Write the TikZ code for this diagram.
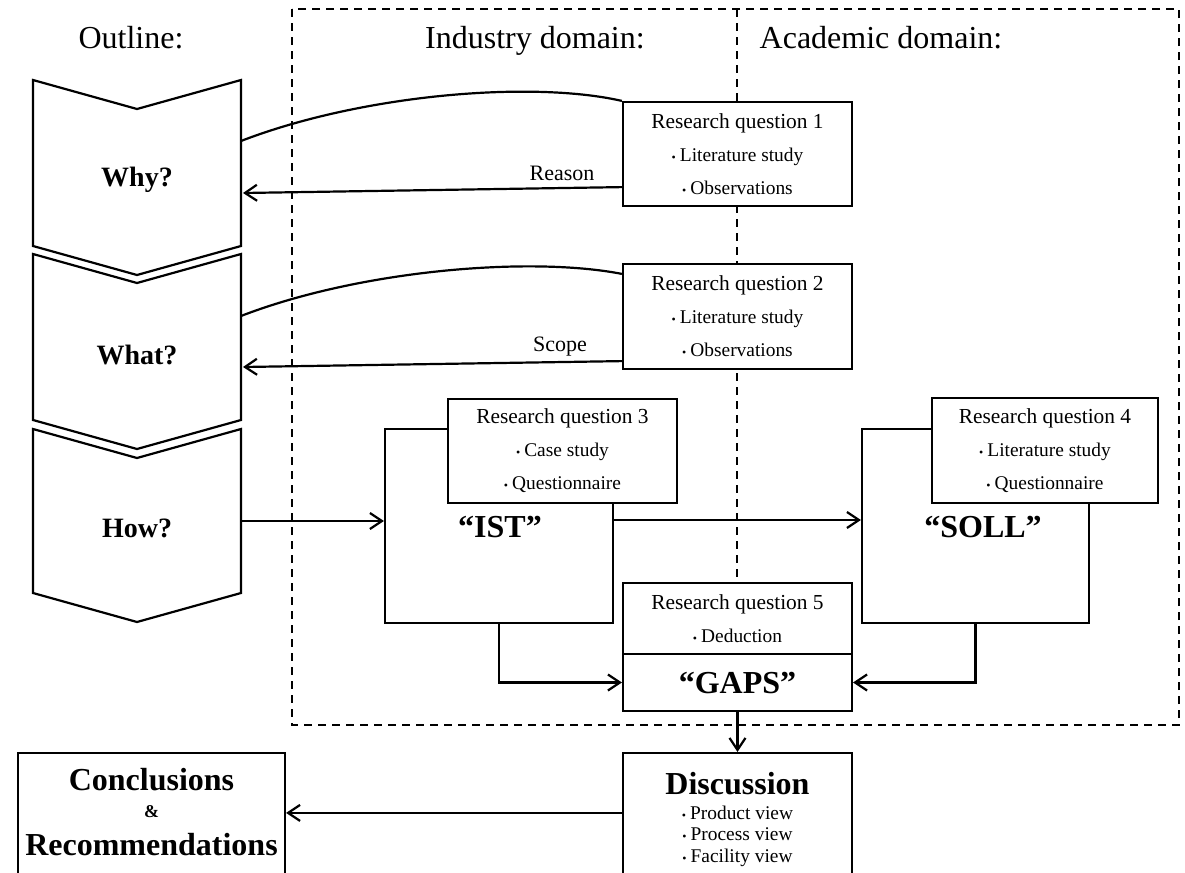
\documentclass[tikz,border=0pt]{standalone}
\usepackage{fontspec}
\setmainfont{Liberation Serif}
\usepackage{tikz}
\usetikzlibrary{positioning, arrows.meta, calc}
\newcommand{\bul}{{\fontsize{6}{6}\selectfont\textbullet}\hspace{2pt}}

\begin{document}
\begin{tikzpicture}[x=0.5pt, y=-0.5pt, >={Straight Barb[length=6pt,width=8pt]},
	every node/.style={inner sep=0pt},
	box/.style={draw, line width=1.1pt, fill=white, rectangle},
	rqbox/.style={box, align=center, minimum width=114.5pt, font=\fontsize{9.7}{16.5}\selectfont},
	rqtitle/.style={font=\fontsize{10.7}{16.5}\selectfont},
	bigword/.style={font=\fontsize{16}{16}\selectfont\bfseries},
	head/.style={font=\fontsize{16}{16}\selectfont, anchor=base},
	link/.style={line width=1.1pt},
	domainframe/.style={line width=1pt, dash pattern=on 4pt off 3pt}]
		
		\useasboundingbox (0,0) rectangle (1185,873);
		\clip (0,0) rectangle (1185,873);
		
		% Headings
		\node[head] (outline) at (131,48) {Outline:};
		\node[head] (industry) at (535,48) {Industry domain:};
		\node[head] (academic) at (881,48) {Academic domain:};
		
		% Domain frame
		\draw[domainframe] (292,9) rectangle (1179,725);
		\draw[domainframe] (737,9) -- (737,725);
		
		% Outline chevrons
		\foreach \t/\b in {80/246, 254/420, 429/593}
		\draw[line width=1.1pt] (33,\t) -- (137,\t+29) -- (241,\t) -- (241,\b) -- (137,\b+29) -- (33,\b) -- cycle;
		\node[font=\fontsize{14}{14}\selectfont\bfseries] (why) at (137,180) {Why?};
		\node[font=\fontsize{14}{14}\selectfont\bfseries] (what) at (137,355) {What?};
		\node[font=\fontsize{14}{14}\selectfont\bfseries] (how) at (137,528) {How?};
		\coordinate (whyout) at (241,141);
		\coordinate (whyin) at (243,193);
		\coordinate (whatout) at (241,316);
		\coordinate (whatin) at (243,367);
		\coordinate (howout) at (241,521);
		
		% Research questions 1 and 2
		\node[rqbox, minimum height=52pt] (rq1) at (737.5,154)
		{{\fontsize{10.7}{16.5}\selectfont Research question 1}\\ \bul Literature study\\ \bul Observations};
		\node[rqbox, minimum height=52.5pt] (rq2) at (737.5,316.5)
		{{\fontsize{10.7}{16.5}\selectfont Research question 2}\\ \bul Literature study\\ \bul Observations};
		
		\draw[link] (whyout) .. controls (360,95) and (530,80) .. (rq1.north west);
		\draw[link,->] ($(rq1.south west)+(0,-20)$) -- (whyin);
		\node[font=\fontsize{11}{11}\selectfont] (reason) at (562,173) {Reason};
		
		\draw[link] (whatout) .. controls (360,270) and (530,256) .. ($(rq2.north west)+(0,11)$);
		\draw[link,->] ($(rq2.south west)+(0,-9)$) -- (whatin);
		\node[font=\fontsize{11}{11}\selectfont] (scope) at (560,347) {Scope};
		
		% IST and SOLL
		\node[box, minimum width=114pt, minimum height=97pt] (ist) at (499,526) {};
		\node[bigword] (istword) at (500,527) {``IST''};
		\node[box, minimum width=113.5pt, minimum height=97pt] (soll) at (975.5,526) {};
		\node[bigword] (sollword) at (983,527) {``SOLL''};
		\node[rqbox, minimum height=52pt] (rq3) at (562.5,451)
		{{\fontsize{10.7}{16.5}\selectfont Research question 3}\\ \bul Case study\\ \bul Questionnaire};
		\node[rqbox, minimum width=113pt, minimum height=52.5pt] (rq4) at (1045,450.5)
		{{\fontsize{10.7}{16.5}\selectfont Research question 4}\\ \bul Literature study\\ \bul Questionnaire};
		
		\draw[link,->] (howout) -- (ist.west |- howout);
		\draw[link,->] ($(ist.east)+(0,-6)$) -- ($(soll.west)+(0,-6)$);
		
		% Research question 5 and GAPS
		\node[rqbox, minimum height=35.5pt] (rq5) at (737.5,618.5)
		{{\fontsize{10.7}{16.5}\selectfont Research question 5}\\ \bul Deduction};
		\node[box, minimum width=114.5pt, minimum height=28.5pt] (gaps) at (737.5,682.5) {};
		\node[bigword] (gapsword) at (737.5,683) {``GAPS''};
		\draw[link,->] (ist.south) |- (gaps.west);
		\draw[link,->] (soll.south) |- (gaps.east);
		
		% Discussion and conclusions
		\node[box, minimum width=114.5pt, minimum height=76pt] (disc) at (737.5,829) {};
		\node[bigword] (discword) at (737.5,784) {Discussion};
		\node[align=center, font=\fontsize{9.7}{10.75}\selectfont] (discitems) at (737.5,836)
		{\bul Product view\\ \bul Process view\\ \bul Facility view};
		\draw[link,->] (gaps.south) -- (disc.north);
		
		\node[box, minimum width=133.5pt, minimum height=76pt] (conc) at (151.5,829) {};
		\node[bigword] (concword) at (151.5,780) {Conclusions};
		\node[font=\fontsize{9}{9}\selectfont\bfseries] (amp) at (151.5,812) {\&};
		\node[bigword] (recword) at (151.5,845) {Recommendations};
		\draw[link,->] ($(disc.north west)+(0,61)$) -- ($(conc.north east)+(0,61)$);
		
	\end{tikzpicture}
\end{document}
